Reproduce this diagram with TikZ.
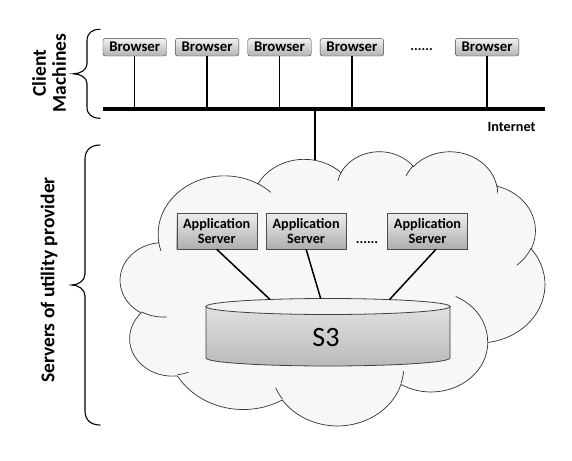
\documentclass[tikz,border=0pt]{standalone}
\usepackage{fontspec}
\setmainfont{Carlito}
\usetikzlibrary{positioning}
\newcommand{\cloudarc}[4]{arc[x radius=#1, y radius=#2, start angle={atan2(#1*sin(#3),#2*cos(#3))}, delta angle={mod(atan2(#1*sin(#3+#4),#2*cos(#3+#4))-atan2(#1*sin(#3),#2*cos(#3))+720,360)}]}
\tikzset{
    browser/.style={draw=black!75, rounded corners=2.5pt, top color=black!5, bottom color=black!30, minimum width=63.5pt, minimum height=17.7pt, inner sep=0pt, font=\bfseries\fontsize{14.8}{16}\selectfont},
    appserver/.style={draw=black!70, top color=black!7, bottom color=black!32, minimum width=80pt, minimum height=35.7pt, inner sep=0pt, align=center, font=\bfseries\fontsize{14.2}{15}\selectfont},
    moredots/.style={inner sep=0pt, font=\bfseries\fontsize{14}{16}\selectfont},
    sidelabel/.style={rotate=90, align=center, font=\bfseries\fontsize{19.5}{20}\selectfont},
    wire/.style={line width=1.5pt},
    cloudline/.style={draw=black!80, line width=0.7pt},
    bracket/.style={line width=1.1pt, line cap=round},
}
\begin{document}
\begin{tikzpicture}[x=1pt, y=-1pt]
    \useasboundingbox (0,0) rectangle (572,460);

    % client machines
    \node[browser] (b1) at (134.7,47.2) {Browser};
    \node[browser, right=8.5pt of b1] (b2) {Browser};
    \node[browser, right=8.5pt of b2] (b3) {Browser};
    \node[browser, right=8.5pt of b3] (b4) {Browser};
    \node[browser, right=71.3pt of b4] (b6) {Browser};
    \node[moredots, anchor=base] (bdots) at (421.7,50.5) {......};

    \coordinate (busL) at (103,109.3);
    \coordinate (busR) at (545,109.3);
    \draw[line width=4pt] (busL) -- (busR);
    \foreach \b in {b1,b2,b3,b4,b6}
        \draw[wire] (\b.south) -- (\b.south |- busL);
    \node[anchor=east, font=\bfseries\fontsize{14.2}{16}\selectfont] (inet) at (539,127) {Internet};

    % cloud
    \begin{scope}[shift={(120.4,150.8)}, x=0.9824pt, y=-0.6346pt]
        \draw[cloudline, fill=black!3] (39.00,143.70)
            \cloudarc{67.53}{91.90}{-190.4875}{123.7805}
            \cloudarc{53.33}{72.67}{-144.1024}{89.9452}
            \cloudarc{43.65}{59.45}{-145.8079}{99.7230}
            \cloudarc{48.57}{65.95}{-130.9861}{117.2417}
            \cloudarc{53.33}{72.73}{-78.7089}{109.0269}
            \cloudarc{67.75}{92.20}{-46.2673}{130.2690}
            \cloudarc{57.85}{78.67}{0.6250}{114.0333}
            \cloudarc{67.52}{92.15}{22.4516}{115.1726}
            \cloudarc{77.20}{105.43}{66.2426}{75.7110}
            \cloudarc{43.60}{59.18}{-274.9421}{146.7356}
            \cloudarc{43.45}{59.45}{-246.8285}{152.5189} -- cycle;
        \draw[cloudline]
            (46.93,261.77) \cloudarc{43.45}{59.45}{86.7420}{26.4295}
            (69.28,348.99) \cloudarc{43.60}{59.18}{73.6105}{11.4475}
            (164.78,390.90) \cloudarc{67.52}{92.15}{137.6242}{14.0811}
            (288.27,347.51) \cloudarc{67.52}{92.15}{6.4533}{15.9984}
            (341.29,229.54) \cloudarc{57.85}{78.67}{-70.2924}{70.9174}
            (417.98,153.54) \cloudarc{53.33}{72.73}{30.3180}{27.7515}
            (383.24,54.26) \cloudarc{48.57}{65.95}{-13.7443}{14.8589}
            (290.78,39.52) \cloudarc{48.57}{65.95}{-149.1815}{18.1954}
            (221.41,47.20) \cloudarc{43.65}{59.45}{-163.4943}{17.6864}
            (140.00,51.92) \cloudarc{67.53}{91.90}{-66.7070}{12.3194}
            (41.27,157.89) \cloudarc{67.53}{91.90}{157.6544}{11.8582};
    \end{scope}
    \coordinate (cloudtop) at (315,160.3);
    \draw[wire] (busL -| cloudtop) -- (cloudtop);

    % servers of utility provider
    \node[appserver] (app1) at (216.7,231.2) {Application\\Server};
    \node[appserver, right=9pt of app1] (app2) {Application\\Server};
    \node[appserver, right=41pt of app2] (app3) {Application\\Server};
    \node[moredots, anchor=base] (adots) at (367,243.5) {......};

    \shadedraw[top color=black!12, bottom color=black!27, draw=black!75, line width=0.8pt]
        (206,306.5) -- (206,358) arc[x radius=122pt, y radius=8pt, start angle=180, end angle=360] -- (450,306.5) -- cycle;
    \draw[fill=black!5, draw=black!75, line width=0.8pt] (328,306.5) ellipse[x radius=122pt, y radius=8pt];
    \node[font=\fontsize{28}{30}\selectfont] (s3) at (326,338) {S3};
    \coordinate (s3a) at (270,299.5);
    \coordinate (s3b) at (320.7,298.6);
    \coordinate (s3c) at (389.5,299.6);
    \draw[wire] (app1.south) -- (s3a);
    \draw[wire] (app2.south) -- (s3b);
    \draw[wire] ([xshift=8.5pt]app3.south) -- (s3c);

    % braces and side labels
    \draw[bracket] (100,29.3) .. controls (92,29.3) and (87,33) .. (87,41) -- (87,64)
        .. controls (87,70) and (80,73.8) .. (73.3,73.8)
        .. controls (80,73.8) and (87,77.5) .. (87,83.5) -- (87,107)
        .. controls (87,114.5) and (92,118.3) .. (100,118.3);
    \draw[bracket] (100,145) .. controls (91,145) and (85,150) .. (85,159) -- (85,274)
        .. controls (85,281) and (78,285) .. (71.7,285)
        .. controls (78,285) and (85,289) .. (85,296) -- (85,411)
        .. controls (85,420) and (91,425) .. (100,425);
    \node[sidelabel] (client) at (49,73) {Client\\Machines};
    \node[sidelabel] (provider) at (49,280) {Servers of utility provider};
\end{tikzpicture}
\end{document}
